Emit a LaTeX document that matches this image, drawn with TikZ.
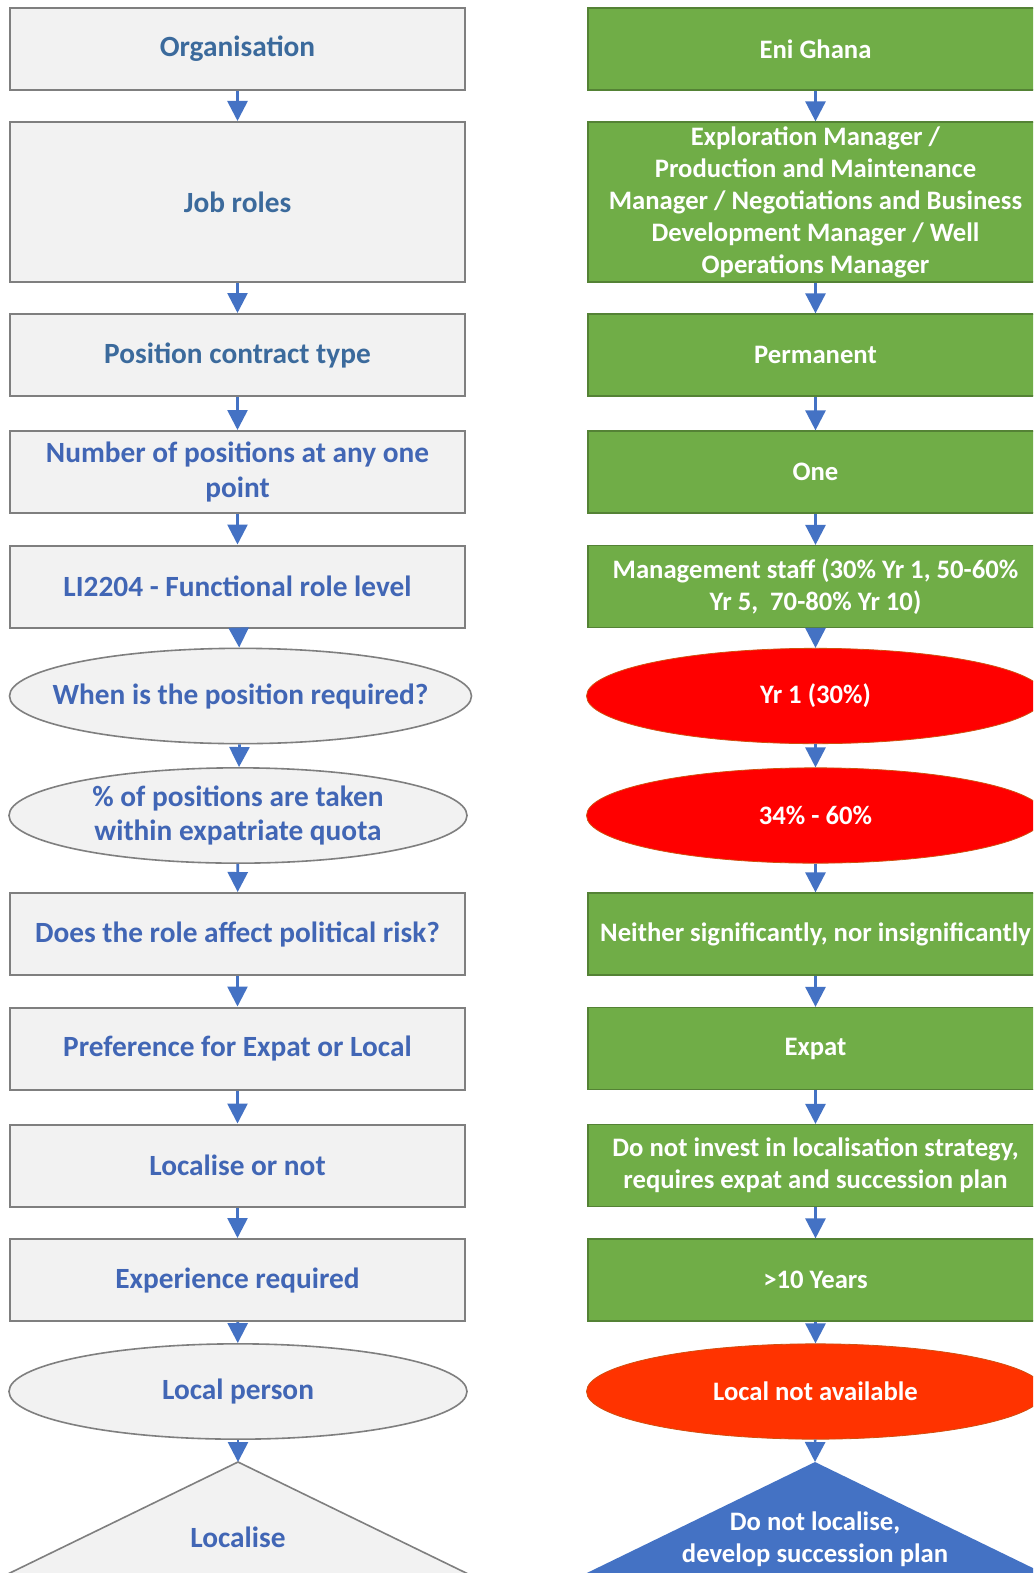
\documentclass[tikz,border=0pt]{standalone}
\usepackage{fontspec}
\setmainfont{Carlito}
\usetikzlibrary{arrows.meta, shapes.geometric}
\definecolor{mGrayFill}{HTML}{F2F2F2}
\definecolor{mGrayLine}{HTML}{7F7F7F}
\definecolor{mSteel}{HTML}{3B6A9C}
\definecolor{mBlueText}{HTML}{4166B5}
\definecolor{mGreen}{HTML}{70AD47}
\definecolor{mGreenLine}{HTML}{548235}
\definecolor{mRed}{HTML}{FF0000}
\definecolor{mRedLine}{HTML}{D05010}
\definecolor{mOrange}{HTML}{FF3300}
\definecolor{mBlue}{HTML}{4472C4}

\begin{document}
\begin{tikzpicture}[x=0.75pt, y=-0.75pt,
    every node/.style={align=center, inner sep=0pt},
    qfont/.style={font=\fontsize{22}{26}\selectfont\bfseries},
    afont/.style={font=\fontsize{20}{24}\selectfont\bfseries},
    qbox/.style={qfont, rectangle, draw=mGrayLine, fill=mGrayFill, line width=1.5pt, text=mBlueText,
      minimum width=341.25pt, minimum height=61.5pt},
    qoval/.style={qfont, ellipse, draw=mGrayLine, fill=mGrayFill, line width=1.2pt, text=mBlueText,
      inner sep=-60pt, minimum width=343.5pt, minimum height=71.5pt},
    abox/.style={afont, rectangle, draw=mGreenLine, fill=mGreen, line width=0.9pt, text=white,
      minimum width=341.25pt, minimum height=61.5pt},
    aoval/.style={afont, ellipse, draw=mRedLine, fill=mRed, line width=0.6pt, text=white,
      inner sep=-60pt, minimum width=343.5pt, minimum height=71.5pt},
    flow/.style={draw=mBlue, line width=2pt, -{Triangle[width=15pt, length=15pt]}}]
    \useasboundingbox (0,0) rectangle (1033,1573);
    \fill[white] (0,0) rectangle (1033,1573);
    \clip (0,0) rectangle (1033,1573);

    % questions
    \node[qbox, text=mSteel] (q1) at (237.5,49) {Organisation};
    \node[qbox, text=mSteel, minimum height=120pt] (q2) at (237.5,202) {Job roles};
    \node[qbox, text=mSteel] (q3) at (237.5,355) {Position contract type};
    \node[qbox] (q4) at (237.5,472) {Number of positions at any one\\point};
    \node[qbox] (q5) at (237.5,586.5) {LI2204 - Functional role level};
    \node[qoval, minimum width=346.5pt] (q6) at (240.5,696) {When is the position required?};
    \node[qoval] (q7) at (238,815.5) {\% of positions are taken\\within expatriate quota};
    \node[qbox] (q8) at (237.5,934) {Does the role affect political risk?};
    \node[qbox] (q9) at (237.5,1048.5) {Preference for Expat or Local};
    \node[qbox] (q10) at (237.5,1165.5) {Localise or not};
    \node[qbox] (q11) at (237.5,1280) {Experience required};
    \node[qoval] (q12) at (238,1391.5) {Local person};
    \fill[mGrayFill, draw=mGrayLine, line width=1.2pt]
      (238,1462) coordinate (q13) -- (-22,1588.5) -- (498,1588.5) -- cycle;
    \node[qfont, text=mBlueText] (q13t) at (238,1537) {Localise};

    % answers
    \node[abox] (a1) at (815.5,49) {Eni Ghana};
    \node[abox, minimum height=120pt] (a2) at (815.5,202)
      {Exploration Manager /\\Production and Maintenance\\Manager / Negotiations and Business\\Development Manager / Well\\Operations Manager};
    \node[abox] (a3) at (815.5,355) {Permanent};
    \node[abox] (a4) at (815.5,472) {One};
    \node[abox] (a5) at (815.5,586.5) {Management staff (30\% Yr 1, 50-60\%\\Yr 5,~~70-80\% Yr 10)};
    \node[aoval] (a6) at (815.5,696) {Yr 1 (30\%)};
    \node[aoval] (a7) at (815.5,815.5) {34\% - 60\%};
    \node[abox] (a8) at (815.5,934) {Neither significantly, nor insignificantly};
    \node[abox] (a9) at (815.5,1048.5) {Expat};
    \node[abox] (a10) at (815.5,1165.5) {Do not invest in localisation strategy,\\requires expat and succession plan};
    \node[abox] (a11) at (815.5,1280) {>10 Years};
    \node[aoval, fill=mOrange] (a12) at (815.5,1391.5) {Local not available};
    \fill[mBlue] (815,1462) coordinate (a13) -- (555,1588.5) -- (1075,1588.5) -- cycle;
    \node[afont, text=white] (a13t) at (815,1539) {Do not localise,\\develop succession plan};

    % connectors
    \foreach \i [evaluate=\i as \j using int(\i+1)] in {1,...,12} {
      \draw[flow] (q\i) -- (q\j);
      \draw[flow] (a\i) -- (a\j);
    }
\end{tikzpicture}
\end{document}
